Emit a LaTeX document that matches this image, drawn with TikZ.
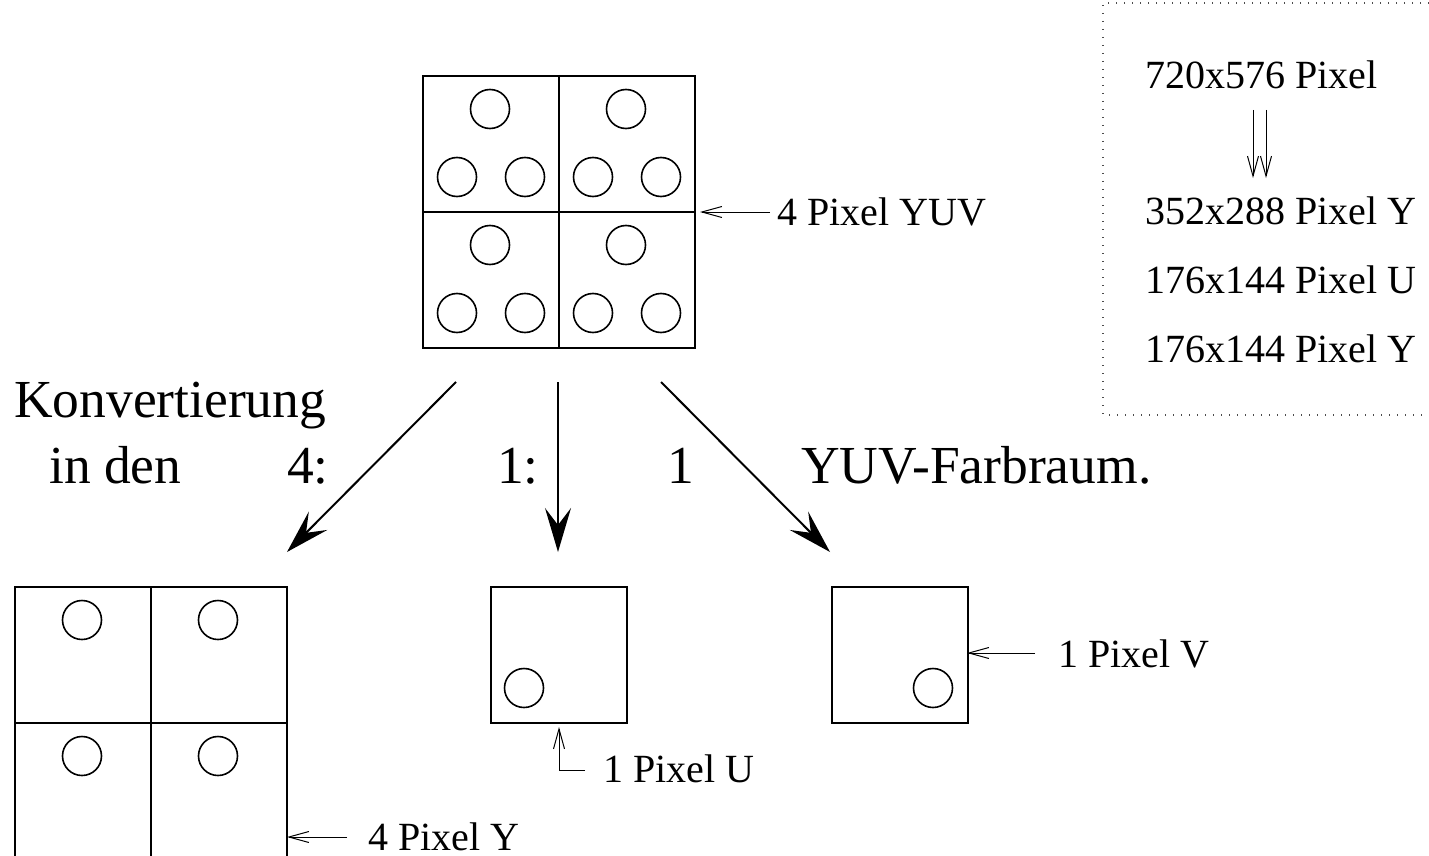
\documentclass[tikz,border=0pt]{standalone}
\usepackage{fontspec}
\setmainfont{Liberation Serif}
\usetikzlibrary{arrows.meta}
\begin{document}
\begin{tikzpicture}[x=1pt,y=-1pt,
  small/.style={font=\fontsize{40}{48}\selectfont, inner sep=0pt, anchor=base west},
  big/.style={font=\fontsize{53.5}{64}\selectfont, inner sep=0pt, anchor=base west},
  pixbox/.style={draw, line width=2pt, inner sep=0pt, anchor=north west, minimum width=#1, minimum height=#1},
  gridline/.style={line width=2pt},
  circ/.style={line width=1.6pt},
  thinarrow/.style={line width=1pt, -{Straight Barb[length=20pt,width=11pt,line width=1pt]}},
  bigarrow/.style={line width=2pt, -{Stealth[length=44pt,width=26pt,inset=17pt,line width=1.5pt]}},
  frame/.style={line width=1.3pt, black!70, dash pattern=on 1.3pt off 6.7pt}
]
\useasboundingbox (0,0) rectangle (1429,856);

% ---- top 2x2 grid (YUV)
\node[pixbox=272pt] (yuv) at (422,75) {};
\draw[gridline] (yuv.north) -- (yuv.south);
\draw[gridline] (yuv.west) -- (yuv.east);
\foreach \x/\y in {422/75, 558/75, 422/211, 558/211}{
  \draw[circ] (\x+68,\y+34) circle[radius=19.5pt];
  \draw[circ] (\x+35,\y+102) circle[radius=19.5pt];
  \draw[circ] (\x+103,\y+102) circle[radius=19.5pt];
}
\node[small] (lyuv) at (777,225) {4 Pixel YUV};
\coordinate (tyuv) at (700,212);
\draw[thinarrow] (lyuv.west |- tyuv) ++(-7,0) -- (tyuv);

% ---- lower-left 2x2 grid (Y)
\node[pixbox=272pt] (ybox) at (14,586) {};
\draw[gridline] (ybox.north) -- (ybox.south);
\draw[gridline] (ybox.west) -- (ybox.east);
\foreach \x/\y in {14/586, 150/586, 14/722, 150/722}{
  \draw[circ] (\x+68,\y+34) circle[radius=19.5pt];
}
\node[small] (ly) at (368,850) {4 Pixel Y};
\coordinate (ty) at (287,837);
\coordinate (sy) at (347,837);
\draw[thinarrow] (sy) -- (ty);

% ---- U box
\node[pixbox=136pt] (ubox) at (490,586) {};
\draw[circ] (524,688) circle[radius=19.5pt];
\node[small] (lu) at (603,782) {1 Pixel U};
\coordinate (tu) at (559,727);
\coordinate (cu) at (559,770);
\coordinate (su) at (585,770);
\draw[thinarrow] (su) -- (cu) -- (tu);

% ---- V box
\node[pixbox=136pt] (vbox) at (831,586) {};
\draw[circ] (933,688) circle[radius=19.5pt];
\node[small] (lv) at (1058,667) {1 Pixel V};
\coordinate (tv) at (967,653);
\coordinate (sv) at (1035,653);
\draw[thinarrow] (sv) -- (tv);

% ---- conversion arrows
\coordinate (a1s) at (456,382); \coordinate (a1e) at (287,552);
\coordinate (a2s) at (558,382); \coordinate (a2e) at (558,552);
\coordinate (a3s) at (661,382); \coordinate (a3e) at (830,552);
\draw[bigarrow] (a1s) -- (a1e);
\draw[bigarrow] (a2s) -- (a2e);
\draw[bigarrow] (a3s) -- (a3e);

\node[big] (t1) at (14,417) {Konvertierung};
\node[big] (t2) at (49,483) {in den};
\node[big] (t3) at (287,483) {4:};
\node[big] (t4) at (497,483) {1:};
\node[big] (t5) at (667,483) {1};
\node[big] (t6) at (801,483) {YUV-Farbraum.};

% ---- info frame
\draw[frame] (1429,3) -- (1103,3) -- (1103,415) -- (1429,415);
\node[small] (i1) at (1145,89) {720x576 Pixel};
\node[small] (i2) at (1145,224) {352x288 Pixel Y};
\node[small] (i3) at (1145,293) {176x144 Pixel U};
\node[small] (i4) at (1145,362) {176x144 Pixel Y};
\coordinate (d1s) at (1253,110); \coordinate (d1e) at (1253,178);
\coordinate (d2s) at (1266,110); \coordinate (d2e) at (1266,178);
\draw[thinarrow] (d1s) -- (d1e);
\draw[thinarrow] (d2s) -- (d2e);
\end{tikzpicture}
\end{document}
